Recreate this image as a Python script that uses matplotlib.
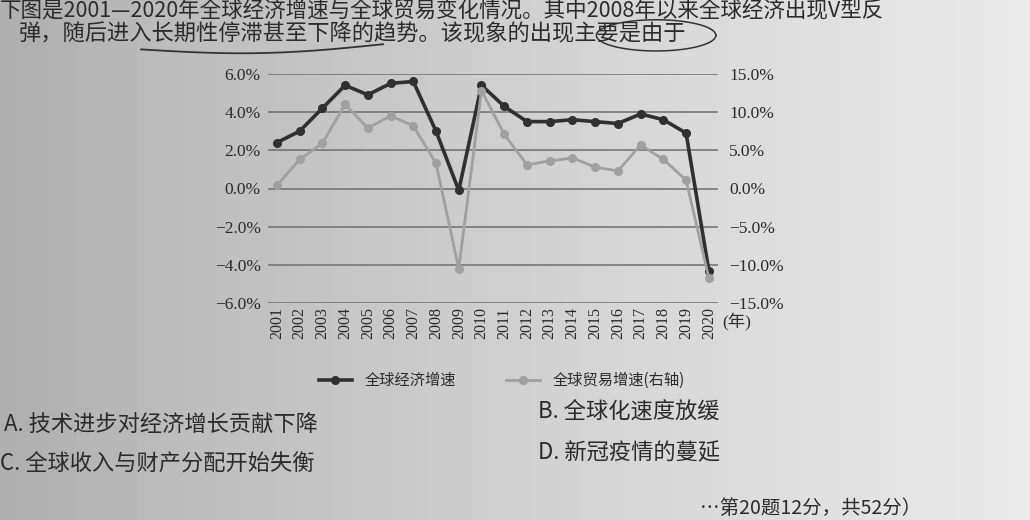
import numpy as np
import matplotlib
matplotlib.use('Agg')
from matplotlib import pyplot as plt

plt.rcParams['font.family'] = ['Noto Sans CJK SC', 'DejaVu Sans']

# 数据
years = [str(y) for y in range(2001, 2021)]
econ = [2.4, 3.0, 4.2, 5.4, 4.9, 5.5, 5.6, 3.0, -0.1, 5.4,
        4.3, 3.5, 3.5, 3.6, 3.5, 3.4, 3.9, 3.6, 2.9, -4.3]
trade = [0.4, 3.8, 5.9, 11.0, 7.9, 9.5, 8.2, 3.3, -10.5, 12.8,
         7.1, 3.1, 3.6, 4.0, 2.8, 2.3, 5.7, 3.8, 1.1, -11.7]
left_ticks = [-6, -4, -2, 0, 2, 4, 6]
right_ticks = [-15, -10, -5, 0, 5, 10, 15]


def pct(v):
    return ('%.1f%%' % v).replace('-', '\u2212')


fig = plt.figure(figsize=(10.3, 5.2), dpi=100)

# 纸张背景
bg = fig.add_axes([0, 0, 1, 1])
grad = np.linspace(0, 1, 256).reshape(1, -1)
grad = np.vstack([grad] * 4)
bg.imshow(grad, aspect='auto', cmap='Greys_r', vmin=-2.2, vmax=1.6,
          extent=[0, 1, 0, 1])
bg.set_xlim(0, 1)
bg.set_ylim(0, 1)
bg.axis('off')

# 手写标记
t = np.linspace(0, 1, 50)
bg.plot(0.137 + 0.235 * t, 0.905 - 0.012 * np.sin(np.pi * t) + 0.01 * t,
        color='#333333', lw=1.3)
th = np.linspace(0, 2 * np.pi, 80)
bg.plot(0.637 + 0.058 * np.cos(th), 0.932 + 0.03 * np.sin(th),
        color='#333333', lw=1.1)

ink = '#2b2b2b'
serif = ['Liberation Serif', 'Noto Sans CJK SC']

ax = fig.add_axes([0.260, 0.417, 0.437, 0.441])
ax.patch.set_alpha(0)
ax2 = ax.twinx()

x = np.arange(len(years))
ax.plot(x, econ, color='#303030', lw=2.6, marker='o', ms=5.5, zorder=4,
        label='全球经济增速')
ax2.plot(x, trade, color='#a0a0a0', lw=2.0, marker='o', ms=5.5, zorder=3,
         label='全球贸易增速(右轴)')

ax.set_ylim(-6, 6)
ax2.set_ylim(-15, 15)
ax.set_xlim(-0.4, len(years) - 0.6)
ax.set_yticks(left_ticks)
ax2.set_yticks(right_ticks)
ax.set_yticklabels([pct(v) for v in left_ticks], family=serif,
                   fontsize=12.5, color=ink)
ax2.set_yticklabels([pct(v) for v in right_ticks], family=serif,
                    fontsize=12.5, color=ink)
ax.set_xticks(x)
ax.set_xticklabels(years, rotation=90, family=serif, fontsize=11.5,
                   color=ink)
ax.grid(axis='y', color='#6e6e6e', lw=1.1)
ax.set_axisbelow(True)
for a in (ax, ax2):
    for s in a.spines.values():
        s.set_visible(False)
    a.tick_params(length=0)
ax.tick_params(axis='y', pad=5)
ax2.tick_params(axis='y', pad=8)
ax.tick_params(axis='x', pad=3)

fig.text(0.701, 0.381, '(年)', fontsize=12.5, color=ink, family=serif,
         va='center')

h1, l1 = ax.get_legend_handles_labels()
h2, l2 = ax2.get_legend_handles_labels()
fig.legend(h1 + h2, l1 + l2, loc='center', bbox_to_anchor=(0.487, 0.268),
           ncol=2, frameon=False, fontsize=11, handlelength=2.2,
           columnspacing=3.3, labelcolor=ink)

# 题目文字
fig.text(0.0, 1.0, '下图是2001—2020年全球经济增速与全球贸易变化情况。其中2008年以来全球经济出现V型反',
         fontsize=15.5, color=ink, va='top')
fig.text(0.018, 0.935, '弹，随后进入长期性停滞甚至下降的趋势。该现象的出现主要是由于',
         fontsize=16, color=ink, va='center')
fig.text(0.004, 0.183, 'A. 技术进步对经济增长贡献下降', fontsize=16, color=ink, va='center')
fig.text(0.522, 0.208, 'B. 全球化速度放缓', fontsize=16, color=ink, va='center')
fig.text(0.0, 0.108, 'C. 全球收入与财产分配开始失衡', fontsize=16, color=ink, va='center')
fig.text(0.522, 0.129, 'D. 新冠疫情的蔓延', fontsize=16, color=ink, va='center')
fig.text(0.68, 0.002, '…第20题12分，共52分）', fontsize=14, color=ink, va='bottom')

fig.savefig('out.png', dpi=100)
